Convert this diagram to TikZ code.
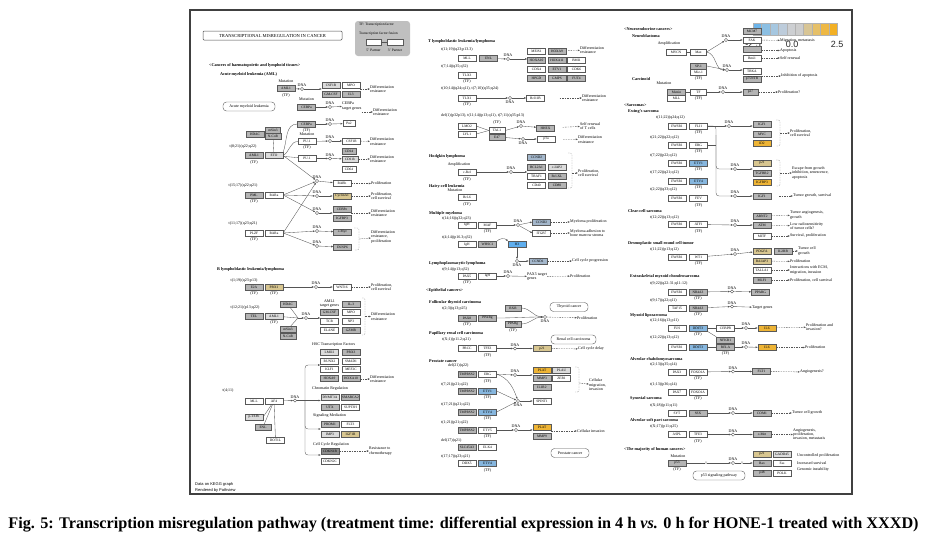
\documentclass[tikz,border=0pt]{standalone}
\usepackage{fontspec}
\setmainfont{Liberation Serif}
\setsansfont{Liberation Sans}
\usetikzlibrary{arrows.meta}
\definecolor{kgray}{HTML}{B4B4B4}
\definecolor{klight}{HTML}{DCDCDC}
\definecolor{kblue}{HTML}{86B6DE}
\definecolor{kbright}{HTML}{5FAEEE}
\definecolor{kccnd}{HTML}{A4B7CB}
\definecolor{ktan}{HTML}{D8C690}
\definecolor{korange}{HTML}{EEB435}
\definecolor{kline}{HTML}{555555}
\definecolor{kc0}{HTML}{6CB4EA}
\definecolor{kc1}{HTML}{8BBFE3}
\definecolor{kc2}{HTML}{A6C7E0}
\definecolor{kc3}{HTML}{BDCCDB}
\definecolor{kc4}{HTML}{CDCFD2}
\definecolor{kc5}{HTML}{CDCDCD}
\definecolor{kc6}{HTML}{D8C595}
\definecolor{kc7}{HTML}{E6C068}
\definecolor{kc8}{HTML}{EEB844}
\definecolor{kc9}{HTML}{F3B024}
\tikzset{
    gene/.style = {rectangle, draw=black!65, line width=0.3pt, fill=white, minimum width=18pt, minimum height=6pt, inner sep=0pt, font=\fontsize{3.5}{3.5}\selectfont},
    geneg/.style = {gene, fill=kgray},
    genel/.style = {gene, fill=klight},
    geneb/.style = {gene, fill=kblue},
    genec/.style = {gene, fill=kccnd},
    genet/.style = {gene, fill=ktan},
    geneo/.style = {gene, fill=korange},
    txt/.style = {inner sep=0pt, font=\fontsize{4}{4.4}\selectfont, align=left},
    txtw/.style = {txt, anchor=west},
    headl/.style = {txtw, font=\fontsize{4.2}{4.6}\selectfont\bfseries},
    pway/.style = {rectangle, rounded corners=3.5pt, draw=black!65, line width=0.4pt, fill=white, inner sep=0pt, minimum height=9pt, font=\fontsize{4}{4}\selectfont},
    dnao/.style = {circle, draw=black!70, fill=white, line width=0.3pt, inner sep=0pt, minimum size=3.4pt},
    dnac/.style = {dnao, label={[txt,label distance=0.4pt]above:DNA}},
    dnab/.style = {dnao, label={[txt,label distance=0.4pt]below:DNA}},
    edgen/.style = {-{Latex[length=2.2pt,width=1.8pt]}, draw=kline, line width=0.35pt},
    edgel/.style = {draw=kline, line width=0.35pt},
    edged/.style = {edgen, dash pattern=on 1.5pt off 1pt},
    brk/.style = {draw=black!45, line width=0.35pt, dash pattern=on 1.5pt off 1pt, rounded corners=1.5pt}
}
\begin{document}
\begin{tikzpicture}[x=1pt,y=-1pt]
\useasboundingbox (0,0) rectangle (927,544);
%
\draw[black!75, line width=2pt] (189.5,9.5) rectangle (852,493.5);
\node[font=\fontsize{16.2}{17}\selectfont\bfseries] (cap) at (463.5,525) {Fig. 5: Transcription misregulation pathway (treatment time: differential expression in 4 h \textit{vs.} 0 h for HONE-1 treated with XXXD)};
\node[draw=black!70, line width=0.5pt, rounded corners=1pt, minimum width=139pt, minimum height=9pt, inner sep=0pt, font=\fontsize{4.6}{4.6}\selectfont] (title) at (272.5,35.5) {TRANSCRIPTIONAL MISREGULATION IN CANCER};
\node[fill=black!25, rounded corners=3pt, minimum width=55pt, minimum height=35pt, inner sep=0pt] (legend) at (382.5,38.5) {};
\node[txtw, font=\fontsize{3.6}{4}\selectfont] (lg1) at (359,25) {TF: Transcription factor};
\node[txtw, font=\fontsize{3.6}{4}\selectfont] (lg2) at (359,34) {Transcription factor fusion};
\node[gene, minimum width=15pt] (lp5) at (373.5,42.5) {};
\node[gene, minimum width=16pt] (lp3) at (395,42.5) {};
\draw[edgel] (lp5) -- (lp3);
\node[txt, font=\fontsize{3.6}{4}\selectfont] (lt5) at (373.5,50) {5' Partner};
\node[txt, font=\fontsize{3.6}{4}\selectfont] (lt3) at (395,50) {3' Partner};
%
% color key
\foreach \c [count=\i from 0] in {kc0,kc1,kc2,kc3,kc4,kc5,kc6,kc7,kc8,kc9}
  \filldraw[fill=\c, draw=black!30, line width=0.2pt] (753+8.4*\i,23) rectangle ++(8.4,12);
\node[font=\sffamily\fontsize{9}{9}\selectfont, text=black!85] (k1) at (753,44.5) {-2.5};
\node[font=\sffamily\fontsize{9}{9}\selectfont, text=black!85] (k2) at (792,44.5) {0.0};
\node[font=\sffamily\fontsize{9}{9}\selectfont, text=black!85] (k3) at (837,44.5) {2.5};
%
% AML
\node[headl] (hemat) at (209,65) {<Cancers of haematopoietic and lymphoid tissues>};
\node[headl] (aml) at (220,74) {Acute myeloid leukemia (AML)};
\node[txt] (mut1) at (286,81.5) {Mutation};
\node[geneg] (aml1a) at (286,88.5) {AML1};
\node[txt] (tf1) at (286,96) {(TF)};
\node[dnac] (c1) at (302,89) {};
\node[genel] (csf1ra) at (331,85) {CSF1R};
\node[gene] (mpoa) at (351,85) {MPO};
\node[geneg] (gmcsfa) at (331,94) {GM-CSF};
\node[geneg] (il3a) at (351,94) {IL3};
\node[txtw] (o1) at (370,89) {Differentiation\\resistance};
\draw[edgen] (aml1a) -- (c1);
\draw[edgen] (c1) -- (c1 -| csf1ra.west);
\draw[edged] (il3a.east |- o1) -- (o1);
\node[pway, minimum width=52pt] (amlp) at (249,106.5) {Acute myeloid leukemia};
\node[txt] (mut2) at (306.5,99) {Mutation};
\node[geneg] (cebpa1) at (306.5,107) {CEBPa};
\node[dnac] (c2) at (330,107) {};
\node[txtw] (cebt) at (342,106) {CEBPa\\target genes};
\node[txtw] (o2) at (373,112) {Differentiation\\resistance};
\draw[edgen] (cebpa1) -- (c2);
\draw[edgen] (c2) -- (cebt);
\draw[edged] (cebt.east |- o2) -- (o2);
\node[geneg] (cebpa2) at (306.5,124) {CEBPa};
\node[txt] (tf2) at (306.5,131) {(TF)};
\node[dnac] (c3) at (330,124) {};
\node[gene, minimum width=12pt] (pu2) at (349,123.5) {Pu2};
\draw[edgen] (cebpa2) -- (c3);
\draw[edgen] (c3) -- (pu2);
\node[geneg] (hdac1) at (255,134.5) {HDAC};
\node[geneg, minimum width=15pt] (msin1) at (273,130) {mSin3};
\node[geneg, minimum width=16pt] (ncor1) at (273,136) {N-CoR};
\node[txt] (mut3) at (307,134) {Mutation};
\node[gene] (pu1a) at (307,141.5) {PU.1};
\node[txt] (tf3) at (307,148) {(TF)};
\node[dnac] (c4) at (330,141) {};
\node[gene] (csf1rb) at (351.5,141) {CSF1R};
\node[txtw] (o3) at (370,141.5) {Differentiation\\resistance};
\draw[edgen] (pu1a) -- (c4);
\draw[edgen] (c4) -- (csf1rb);
\draw[edged] (csf1rb) -- (o3);
\node[txt] (tr1) at (243,147) {t(8;21)(q22;q22)};
\node[geneg] (aml1b) at (254,155.5) {AML1};
\node[genel] (eto) at (274,155.5) {ETO};
\node[txt] (tf4) at (254,163) {(TF)};
\node[gene] (pu1b) at (307,158.5) {PU.1};
\node[dnac] (c5) at (330,158.5) {};
\node[geneg, minimum width=14pt] (cd14) at (349,151) {CD14};
\node[genel, minimum width=16pt] (cd11b) at (350,159) {CD11b};
\node[gene, minimum width=14pt] (cd64) at (349,169) {CD64};
\node[txtw] (o4) at (370,159) {Differentiation\\resistance};
\draw[edgen] (pu1b) -- (c5);
\draw[edgen] (c5) -- (cd11b);
\draw[edged] (cd11b) -- (o4);
\draw[edgel] (ncor1) -- (eto);
\draw[edgel] (eto.east) to[out=30,in=180] (pu1a.west);
\draw[edgel] (eto) -- (pu1b);
\draw[edgel] (eto.north east) to[out=70,in=180] (cebpa2.west);
\node[txt] (tr2) at (243,186) {t(15;17)(q22;q21)};
\node[geneg] (pml) at (254,195) {PML};
\node[gene] (rara1) at (274,195) {RARa};
\node[txt] (tf5) at (254,202) {(TF)};
\node[txt] (tr3) at (243,224) {t(11;17)(q23;q21)};
\node[gene] (plzf) at (254,233) {PLZF};
\node[gene] (rara2) at (274,233) {RARa};
\node[txt] (tf6) at (254,240) {(TF)};
\node[dnac] (d1) at (317,181) {};
\node[dnac] (d2) at (317,196) {};
\node[dnac] (d3) at (317,213) {};
\node[dnac] (d4) at (317,231) {};
\node[dnac] (d5) at (317,246) {};
\node[gene] (rarb) at (342,183.5) {RARb};
\node[genet] (cyca1) at (342,196) {CyclinA1};
\node[geneg] (cebpe) at (342,209) {CEBPe};
\node[geneg] (igfbp3a) at (342,218) {IGFBP3};
\node[geneg] (cmyca) at (342.5,232) {c-Myc};
\node[geneg] (dusp6) at (342.5,247) {DUSP6};
\node[txtw] (o5) at (371,183.5) {Proliferation};
\node[txtw] (o6) at (371,196) {Proliferation,\\cell survival};
\node[txtw] (o7) at (371,213) {Differentiation\\resistance};
\node[txtw] (o8) at (371,237) {Differentiation\\resistance,\\proliferation};
\draw[brk] (354,228) -- (359,228) -- (359,250) -- (354,250);
\coordinate (b1) at (359,239);
\draw[edged] (b1) -- (o8);
\draw[edgen] (d1) -- (rarb);
\draw[edgen] (d2) -- (cyca1);
\draw[edgen] (d3) -- (d3 -| cebpe.west);
\draw[edgen] (d4) -- (cmyca);
\draw[edgen] (d5) -- (dusp6);
\draw[edged] (rarb) -- (o5);
\draw[edged] (cyca1) -- (o6);
\draw[edged] (d3 -| cebpe.east) -- (o7);
\draw[edgen] (eto.east) -- (d1);
\draw[edgen] (rara1.east) -- (d1);
\draw[edgen] (rara1.east) -- (d2);
\draw[edgen] (rara1.east) -- (d3);
\draw[edgen] (rara2.east) -- (d1);
\draw[edgen] (rara2.east) -- (d4);
\draw[edgen] (rara2.east) -- (d5);
%
% B lymphoblastic
\node[headl] (blym) at (217,269) {B lymphoblastic leukemia/lymphoma};
\node[txt] (tr4) at (244,281) {t(1;19)(q23;p13)};
\node[geneg] (e2a) at (254,287) {E2A};
\node[genet] (pbx1) at (274,287) {PBX1};
\node[txt] (tf7) at (254,294) {(TF)};
\node[txt] (tf8) at (274,294) {(TF)};
\node[dnac] (d6) at (316,287) {};
\node[gene] (wnt16) at (342,287) {WNT16};
\node[txtw] (o9) at (371,287) {Proliferation,\\cell survival};
\draw[edgen] (pbx1) -- (d6);
\draw[edgen] (d6) -- (wnt16);
\draw[edged] (wnt16) -- (o9);
\node[txt] (tr5) at (245,308) {t(12;21)(p13;q22)};
\node[geneg] (tel) at (254,316) {TEL};
\node[genel] (aml1c) at (274,316) {AML1};
\node[txt] (tf9) at (274,323) {(TF)};
\node[geneg, minimum width=16pt] (hdac2) at (288,304.5) {HDAC};
\node[geneg, minimum width=16pt] (msin2) at (288,329) {mSin3};
\node[geneg, minimum width=16pt] (ncor2) at (288,336) {N-CoR};
\coordinate (j1) at (298,318);
\node[dnac] (d7) at (306,318) {};
\draw[edgel] (aml1c) -- (j1);
\draw[edgel] (hdac2) -- (j1);
\draw[edgel] (msin2) -- (j1);
\draw[edgen] (j1) -- (d7);
\node[txt, align=center] (amlt) at (329.5,303.5) {AML1\\target genes};
\node[geneg] (il3b) at (351,304) {IL-3};
\node[geneg] (gmcsfb) at (329.5,312.5) {GM-CSF};
\node[gene] (mpob) at (351,312.5) {MPO};
\node[gene] (tcr) at (329.5,321) {TCR};
\node[gene] (np3) at (351,321) {NP3};
\node[gene] (elane) at (329.5,330) {ELANE};
\node[geneg] (gzmb) at (351,330) {GZMB};
\draw[edgen] (d7) -- (d7 -| gmcsfb.west);
\draw[brk] (362,298) -- (365,298) -- (365,335) -- (362,335);
\coordinate (b2) at (365,316.5);
\node[txtw] (o10) at (371,316.5) {Differentiation\\resistance};
\draw[edged] (b2) -- (o10);
%
% MLL-AF4
\node[txtw] (hsct) at (312,345) {HSC Transcription Factors};
\node[genel] (lmo2a) at (329.5,352.5) {LMO2};
\node[geneg] (pbx3) at (351,352.5) {PBX3};
\node[gene] (runx2) at (329.5,361) {RUNX2};
\node[gene] (smad1) at (351,361) {SMAD1};
\node[gene] (klf1) at (329.5,369) {KLF1};
\node[gene] (mef2c) at (351,369) {MEF2C};
\node[geneg] (hoxa9a) at (329.5,378) {HOXA9};
\node[geneg] (hoxa10a) at (351,378) {HOXA10};
\node[txtw] (o11) at (370,379) {Differentiation\\resistance};
\draw[edged] (hoxa10a.east |- o11) -- (o11);
\node[txt] (tr6) at (228,391) {t(4;11)};
\node[gene] (mll1) at (254,401) {MLL};
\node[gene] (af4) at (274,401) {AF4};
\node[genel] (ptefb) at (254,417) {p-TEFb};
\node[geneg, minimum width=16pt] (enl1) at (263,427) {ENL};
\node[gene] (dot1l) at (275.5,440) {DOT1L};
\draw[edgel] (af4) -- (ptefb.east);
\draw[edgel] (af4) -- (enl1);
\draw[edgel] (af4) -- (dot1l);
\node[dnac] (d8) at (295,400.5) {};
\draw[edgen] (af4) -- (d8);
\coordinate (br1) at (305,400.5);
\coordinate (brt) at (305,365);
\coordinate (brs) at (305,429);
\coordinate (brb) at (305,455);
\draw[edgel] (d8) -- (br1);
\draw[edgen, rounded corners=3pt] (br1) |- (lmo2a.west |- brt);
\node[txtw] (chrt) at (312,389) {Chromatin Regulation};
\node[genel] (dnmt) at (330,397) {DNMT3A};
\node[geneg] (smarca) at (350.5,397) {SMARCA2};
\node[geneg] (utx) at (330,407) {UTX};
\node[gene] (supt3h) at (350.5,407) {SUPT3H};
\draw[edgen] (br1) -- (br1 -| dnmt.west);
\node[txtw] (sigt) at (313,416) {Signaling Mediation};
\node[geneg] (prom1) at (330,424) {PROM1};
\node[gene] (flt3) at (350.5,424) {FLT3};
\node[genel] (imp3) at (330,434) {IMP3};
\node[genet] (igf1r) at (350.5,434) {IGF1R};
\draw[edgen, rounded corners=3pt] (br1) |- (prom1.west |- brs);
\node[txtw] (cct) at (313,445) {Cell Cycle Regulation};
\node[gene, fill=black!45] (cdkn1b) at (330,451) {CDKN1B};
\node[gene] (cdkn2c) at (330,461) {CDKN2C};
\draw[edgen, rounded corners=3pt] (br1) |- (cdkn1b.west |- brb);
\node[txtw] (o12) at (369,451) {Resistance to\\chemotherapy};
\draw[edged] (cdkn1b) -- (o12);
\node[txtw, font=\sffamily\fontsize{4}{4}\selectfont] (src1) at (195,484) {Data on KEGG graph};
\node[txtw, font=\sffamily\fontsize{4}{4}\selectfont] (src2) at (195,490) {Rendered by Pathview};
%
% T lymphoblastic
\node[headl] (tlym) at (428,41) {T lymphoblastic leukemia/lymphoma};
\node[txtw] (tr7) at (441,50) {t(11;19)(q23;p13.3)};
\node[gene] (mll2) at (467,58.5) {MLL};
\node[geneg] (enl2) at (488.5,58.5) {ENL};
\node[dnac] (d9) at (508,59) {};
\draw[edgen] (enl2) -- (d9);
\node[gene] (meis1a) at (536.5,51) {MEIS1};
\node[geneg] (hoxa9b) at (557,51) {HOXA9};
\node[geneg] (hoxa10b) at (536.5,60) {HOXA10};
\node[geneg] (hoxa11) at (557,60) {HOXA11};
\node[gene] (bmi1a) at (576.5,60) {BMI1};
\node[gene] (cdx4) at (536.5,69) {CDX4};
\node[geneg] (etv1c) at (557,69) {ETV1};
\node[gene, line width=0.6pt] (cdk6) at (576.5,69) {CDK6};
\node[geneg] (hpgd) at (536.5,78) {HPGD};
\node[geneg] (gmps) at (557,78) {GMPS};
\node[geneg] (fut4) at (576.5,78) {FUT4};
\draw[edgen] (d9) -- (d9 -| hoxa10b.west);
\node[txtw] (o13) at (580,50) {Differentiation\\resistance};
\draw[edged, shorten <=2pt] (hoxa9b) -- (o13);
\node[txtw] (tr8) at (441,67) {t(7;14)(q35;q32)};
\node[gene] (tlx3) at (467,75) {TLX3};
\node[txt] (tf10) at (467,82) {(TF)};
\node[txtw] (tr9) at (441,89) {t(10;14)(q24;q11), t(7;10)(q35;q24)};
\node[gene] (tlx1) at (467,98) {TLX1};
\node[txt] (tf11) at (467,105) {(TF)};
\node[dnab] (d10) at (510,98) {};
\node[gene] (bcl11b) at (535.5,98) {Bcl11B};
\node[txtw] (o14) at (582,98) {Differentiation\\resistance};
\draw[edgen] (tlx1) -- (d10);
\draw[edgen] (d10) -- (bcl11b);
\draw[edged, shorten <=15pt] (bcl11b) -- (o14);
\node[txtw] (tr10) at (441,116) {del(1)(p32p13), t(11;14)(p13;q11), t(7;11)(q35;p13)};
\node[gene] (lmo2b) at (467,126) {LMO2};
\node[gene] (lyl1) at (467,134) {LYL1};
\node[txt] (tf12) at (497,123) {(TF)};
\node[gene, minimum width=16pt] (tal1) at (497,130.5) {TAL1};
\node[geneg, minimum width=16pt] (e47) at (497,137.5) {E47};
\draw[edgel] (lmo2b.east) -- (tal1.west);
\draw[edgel] (lyl1.east) -- (tal1.west);
\node[dnac] (d11) at (521,126) {};
\node[dnab] (d12) at (523,139) {};
\node[geneg] (hhex) at (545.5,128) {HHEX};
\node[gene] (pta) at (546,139) {pTa};
\node[txtw] (o15) at (580,126) {Self renewal\\of T cells};
\node[txtw] (o16) at (578,139.5) {Differentiation\\resistance};
\draw[edgen] (tal1.east) -- (d11);
\draw[edgen] (e47.east) -- (d12);
\draw[edgen] (d11) -- (hhex);
\draw[edgen] (d12) -- (pta);
\draw[edged, shorten <=8pt] (hhex) -- (o15);
\draw[edged, shorten <=8pt] (pta) -- (o16);
%
% Hodgkin, hairy-cell, myeloma
\node[headl] (hodg) at (429,157) {Hodgkin lymphoma};
\node[txt] (amp1) at (459,165) {Amplification};
\node[gene] (crel) at (467,172) {c-Rel};
\node[txt] (tf13) at (467,179.5) {(TF)};
\node[dnac] (d13) at (511,172) {};
\node[genec] (ccnd2a) at (536.5,157) {CCND2};
\node[geneg] (bcl2a1) at (536.5,167) {BCL2A1};
\node[genel] (ciap2) at (557,167) {c-IAP2};
\node[gene] (traf1) at (536.5,176) {TRAF1};
\node[geneg] (bclxl) at (557,176) {Bcl-XL};
\node[gene] (cd40) at (536.5,185) {CD40};
\node[geneg] (cd80) at (557,185) {CD80};
\draw[edgen] (crel) -- (d13);
\draw[edgen] (d13) -- (d13 -| bcl2a1.west);
\draw[brk] (568,153) -- (572,153) -- (572,188) -- (568,188);
\coordinate (b3) at (572,173);
\node[txtw] (o17) at (578,173) {Proliferation,\\cell survival};
\draw[edged] (b3) -- (o17);
\node[headl] (hairy) at (429,186) {Hairy-cell leukemia};
\node[txt] (mut4) at (455,190.5) {Mutation};
\node[gene] (bcl6) at (467,197.5) {Bcl-6};
\node[txt] (tf14) at (467,205) {(TF)};
\node[headl] (mm) at (429,213) {Multiple myeloma};
\node[txtw] (tr11) at (442,219) {t(14;16)(q32;q23)};
\node[gene] (igh1) at (467,225) {IgH};
\node[gene] (maf) at (487.5,225) {MAF};
\node[txt] (tf15) at (487.5,232) {(TF)};
\node[dnac] (d14) at (518,225) {};
\node[genec] (ccnd2b) at (541.5,222) {CCND2};
\node[gene] (itgb7) at (541.5,233) {ITGB7};
\node[txtw] (o18) at (570,222) {Myeloma proliferation};
\node[txtw] (o19) at (570,233) {Myeloma adhesion to\\bone marrow stroma};
\draw[edgen] (maf) -- (d14);
\draw[edgen] (d14) -- (ccnd2b.west);
\draw[edgen] (d14) -- (itgb7.west);
\draw[edged] (ccnd2b) -- (o18);
\draw[edged] (itgb7) -- (o19);
\node[txtw] (tr12) at (442,237.5) {t(4;14)(p16.3;q32)};
\node[gene] (igh2) at (467,244.5) {IgH};
\node[geneg] (whsc1) at (487.5,244.5) {WHSC1};
\node[gene, fill=kbright] (h3) at (517,244.5) {H3};
\draw[edgen] (whsc1.north east) to[out=50,in=130] (h3.north west);
\node[dnab] (d15) at (517,261) {};
\node[genec] (ccnd1) at (538,261) {CCND1};
\draw[edgen] (h3) -- (d15);
\draw[edgen] (d15) -- (ccnd1);
\node[txtw] (o20) at (572,261) {Cell cycle progression};
\draw[edged] (ccnd1) -- (o20);
\node[headl] (lpl) at (429,263) {Lymphoplasmacytic lymphoma};
\node[txtw] (tr13) at (442,269.5) {t(9;14)(p13;q32)};
\node[gene] (pax5) at (467,276) {PAX5};
\node[gene] (igh3) at (487.5,276) {IgH};
\node[txt] (tf16) at (467,283) {(TF)};
\node[dnac] (d16) at (508,276) {};
\node[txtw] (pax5t) at (527,276.5) {PAX5 target\\genes};
\node[txtw] (o21) at (570,276) {Proliferation};
\draw[edgen] (igh3) -- (d16);
\draw[edgen] (d16) -- (pax5t);
\draw[edged] (pax5t) -- (o21);
%
% epithelial
\node[headl] (epi) at (426,290) {<Epithelial cancers>};
\node[headl] (ftc) at (429,302) {Follicular thyroid carcinoma};
\node[txtw] (tr14) at (442,309) {t(2;3)(q13;p25)};
\node[geneg] (pax8) at (467,318) {PAX8};
\node[geneg] (pparg1) at (487.5,318) {PPARg};
\node[txt] (tf17) at (467,325) {(TF)};
\node[geneg, minimum width=16pt] (rxr) at (513,308) {RXR};
\node[geneg, minimum width=16pt] (pparg2) at (513,324) {PPARg};
\node[txt] (tf18) at (513,331) {(TF)};
\node[dnab] (d17) at (545,317) {};
\draw[edgen] (pparg1.east) to[out=0,in=180] (d17);
\draw[edgen] (rxr.east) to[out=0,in=180] (d17);
\draw[edgen] (pparg2.east) to[out=0,in=180] (d17);
\node[txtw] (o22) at (577,318) {Proliferation};
\draw[edged] (d17) -- (o22);
\node[pway, minimum width=38pt] (thyr) at (569,307) {Thyroid cancer};
\node[headl] (prcc) at (429,333) {Papillary renal cell carcinoma};
\node[txtw] (tr15) at (442,339.5) {t(X;1)(p11.2;q21)};
\node[gene] (prccg) at (467,348.5) {PRCC};
\node[gene] (tfe3a) at (487.5,348.5) {TFE3};
\node[txt] (tf19) at (487.5,356) {(TF)};
\node[dnac] (d18) at (515,348.5) {};
\node[genet] (p21a) at (542,348.5) {p21};
\node[txtw] (o23) at (578,349) {Cell cycle delay};
\draw[edgen] (tfe3a) -- (d18);
\draw[edgen] (d18) -- (p21a);
\draw[edged] (p21a) -- (o23);
\node[pway, minimum width=45pt] (renal) at (573.5,339.5) {Renal cell carcinoma};
\node[headl] (prost) at (429,361) {Prostate cancer};
\node[txtw] (tr16) at (448,366) {del(21)(q22)};
\node[geneg] (tmp1) at (467,374) {TMPRSS2};
\node[gene] (erg2) at (487.5,374) {ERG};
\node[txt] (tf20) at (487.5,381.5) {(TF)};
\node[dnac] (d19) at (515,375) {};
\node[geneo] (plat1) at (542,370) {PLAT};
\node[genel] (plau) at (561.5,370) {PLAU};
\node[geneg] (mmp3) at (542,378.5) {MMP3};
\node[gene] (zeb1) at (561.5,378.5) {ZEB1};
\node[geneg] (il1r2) at (542,387) {IL1R2};
\draw[brk] (575,367) -- (579,367) -- (579,392) -- (575,392);
\coordinate (b4) at (579,383);
\node[txtw] (o24) at (589,385) {Cellular\\migration,\\invasion};
\draw[edged] (b4) -- (o24);
\draw[edgen] (erg2) -- (d19);
\draw[edgen] (d19) -- (d19 -| plat1.west);
\node[txtw] (tr17) at (441,385) {t(7;21)(p21;q22)};
\node[geneg] (tmp2) at (467,391) {TMPRSS2};
\node[geneb] (etv1a) at (487.5,391) {ETV1};
\node[txt] (tf21) at (487.5,398) {(TF)};
\node[dnab] (d20) at (518,401) {};
\node[gene] (spint1) at (542,401) {SPINT1};
\draw[edgen] (erg2.east) to[out=-20,in=110] (d20);
\draw[edgen] (etv1a.east) -- (d20);
\draw[edgen] (d20) -- (spint1);
\node[txtw] (tr18) at (441,405) {t(17;21)(q21;q22)};
\node[geneg] (tmp3) at (467,412) {TMPRSS2};
\node[geneb] (etv4a) at (487.5,412) {ETV4};
\node[txt] (tf41) at (487.5,419) {(TF)};
\draw[edgen] (etv4a.east) -- (d20);
\node[txtw] (tr19) at (441,423) {t(1;21)(p21;q22)};
\node[geneg] (tmp4) at (467,430) {TMPRSS2};
\node[gene] (etv5) at (487.5,430) {ETV5};
\node[txt] (tf22) at (487.5,437) {(TF)};
\node[dnac] (d21) at (516,430) {};
\node[geneo] (plat2) at (542,427) {PLAT};
\node[geneg] (mmp9) at (542,436) {MMP9};
\node[txtw] (o25) at (577,431) {Cellular invasion};
\draw[edgen] (etv5) -- (d21);
\draw[edgen] (d21) -- (d21 -| plat2.west);
\draw[edged] (mmp9.east |- o25) -- (o25);
\node[txtw] (tr20) at (441,440.5) {del(17)(q21)};
\node[geneg] (slc) at (467,447) {SLC45A3};
\node[gene] (elk4) at (487.5,447) {ELK4};
\node[txtw] (tr21) at (441,456.5) {t(17;17)(q23;q21)};
\node[gene] (ddx5) at (467,463) {DDX5};
\node[geneb] (etv4b) at (487.5,463) {ETV4};
\node[txt] (tf23) at (487.5,470.5) {(TF)};
\node[pway, minimum width=38pt] (prostp) at (570,453) {Prostate cancer};
%
% neuroendocrine
\node[headl] (neuro) at (624,29) {<Neuroendocrine cancers>};
\node[headl] (nbl) at (632,36) {Neuroblastoma};
\node[txt] (amp2) at (669,44) {Amplification};
\node[gene, minimum width=20pt] (mycn) at (676,52) {MYCN};
\node[gene, minimum width=16pt] (max) at (698.5,52) {Max};
\draw[edgel] (mycn) -- (max);
\node[dnac] (d22) at (726,40) {};
\node[geneg] (mcm7) at (752,31.5) {MCM7};
\node[gene] (fak) at (752,40) {FAK};
\node[geneg] (mdm2) at (752,49) {};
\node[gene] (bmi1b) at (752,58) {Bmi1};
\node[txtw] (o26) at (780,40.5) {Migration, metastasis};
\node[txtw] (o27) at (780,50.5) {Apoptosis};
\node[txtw] (o28) at (780,58) {Self renewal};
\draw[edgen] (max.east) -- (d22);
\draw[edgen] (d22) -- (fak);
\draw[edged] (fak) -- (o26);
\draw[edged] (mdm2.east |- o27) -- (o27);
\draw[edged] (bmi1b) -- (o28);
\node[geneg, minimum width=16pt] (sp1) at (698.5,66) {SP-1};
\node[gene, minimum width=16pt] (miz1) at (698.5,72.5) {Miz-1};
\node[txt] (tf24) at (698.5,79) {(TF)};
\node[dnac] (d23) at (727,70) {};
\node[gene] (trka) at (752,71.5) {TRKA};
\node[geneg] (p75) at (752,79) {p75NTR};
\node[txtw] (o29) at (781,76) {Inhibition of apoptosis};
\draw[edgen] (max.east) to[out=-10,in=180] (d23);
\draw[edgen] (sp1.east) -- (d23);
\draw[edgen] (d23) -- (d23 -| trka.west);
\draw[edged] (p75.east |- o29) -- (o29);
\node[headl] (carc) at (632,79) {Carcinoid};
\node[txt] (mut5) at (664,83.5) {Mutation};
\node[geneg] (menin) at (676.5,92) {Menin};
\node[gene] (mll4) at (676.5,98) {MLL};
\node[gene, minimum width=16pt] (tfx) at (698.5,92) {TF};
\node[txt] (tf25) at (698.5,99) {(TF)};
\draw[edgel] (menin) -- (tfx);
\node[dnac] (d24) at (723,92) {};
\node[geneg, minimum width=15pt] (p27) at (750.5,92) {p27};
\node[txtw] (o30) at (778,92) {Proliferation?};
\draw[edgen] (tfx) -- (d24);
\draw[edgen] (d24) -- (p27);
\draw[edged] (p27) -- (o30);
%
% sarcomas
\node[headl] (sarc) at (624,105) {<Sarcomas>};
\node[headl] (ewing) at (628,112) {Ewing's sarcoma};
\node[txtw] (tr22) at (656,118) {t(11;22)(q24;q12)};
\node[gene] (ews1) at (677,126) {EWSR1};
\node[gene] (fli1) at (698.5,126) {FLI1};
\node[txt] (tf26) at (698.5,133) {(TF)};
\node[dnac] (d25) at (729,126) {};
\node[geneg] (igf1a) at (762,124) {IGF1};
\node[geneg] (myc) at (762,134) {MYC};
\node[geneo] (id2) at (762,143) {ID2};
\draw[brk] (776,120) -- (780,120) -- (780,146) -- (776,146);
\coordinate (b5) at (780,133);
\node[txtw] (o31) at (790,133) {Proliferation,\\cell survival};
\draw[edged] (b5) -- (o31);
\draw[edgen] (fli1) -- (d25);
\draw[edgen] (d25) -- (d25 -| igf1a.west);
\node[txtw] (tr23) at (650,138) {t(21;22)(q22;q12)};
\node[gene] (ews2) at (677,145) {EWSR1};
\node[gene] (erg3) at (698.5,145) {ERG};
\node[txt] (tf27) at (698.5,152) {(TF)};
\node[txtw] (tr24) at (650,156) {t(7;22)(p22;q12)};
\node[gene] (ews3) at (677,163) {EWSR1};
\node[geneb] (etv1b) at (698.5,163) {ETV1};
\node[txt] (tf28) at (698.5,170) {(TF)};
\node[txtw] (tr25) at (650,173) {t(17;22)(q21;q12)};
\node[gene] (ews4) at (677,181) {EWSR1};
\node[geneb] (etv4c) at (698.5,181) {ETV4};
\node[txt] (tf29) at (698.5,188) {(TF)};
\node[txtw] (tr26) at (650,190) {t(2;22)(q33;q12)};
\node[gene] (ews5) at (677,198.5) {EWSR1};
\node[gene] (fev) at (698.5,198.5) {FEV};
\node[txt] (tf30) at (698.5,206) {(TF)};
\node[dnac] (d26) at (735,169) {};
\node[genet] (p21b) at (762,163) {p21};
\node[geneg] (tgfbr2) at (762,173) {TGFBR2};
\node[geneo] (igfbp3b) at (762,182.5) {IGFBP3};
\draw[brk] (776,160) -- (780,160) -- (780,186) -- (776,186);
\coordinate (b6) at (780,173);
\node[txtw] (o32) at (792,173) {Escape from growth\\inhibition, senescence,\\apoptosis};
\draw[edged] (b6) -- (o32);
\node[dnac] (d27) at (735,196) {};
\node[geneg] (igf1b) at (762,196) {IGF1};
\node[txtw] (o33) at (793,196) {Tumor growth, survival};
\draw[edged, shorten <=8pt] (igf1b) -- (o33);
\draw[edgen] (d26) -- (d26 -| tgfbr2.west);
\draw[edgen] (d27) -- (igf1b);
\coordinate (ewj) at (716,135);
\draw[edgel, rounded corners=3pt] (fli1.east) -| (ewj);
\draw[edgen, rounded corners=3pt] (ewj) |- (d26);
\draw[edgen, rounded corners=3pt] (ewj) |- (d27);
\draw[edgel] (erg3.east) -- (erg3.east -| ewj);
\node[headl] (ccs) at (628,211) {Clear-cell sarcoma};
\node[txtw] (tr27) at (650,218) {t(12;22)(q13;q12)};
\node[gene] (ews6) at (677,224.5) {EWSR1};
\node[gene] (atf1) at (698.5,224.5) {ATF1};
\node[txt] (tf31) at (698.5,231.5) {(TF)};
\node[dnac] (d28) at (735,225) {};
\node[geneg] (arnt2) at (762,216) {ARNT2};
\node[geneg] (atm) at (762,225) {ATM};
\node[gene] (mitf) at (762,236) {MITF};
\node[txtw] (o34) at (790,215) {Tumor angiogenesis,\\growth};
\node[txtw] (o35) at (790,226) {Low radiosensitivity\\of tumor cells?};
\node[txtw] (o36) at (790,236) {Survival, proliferation};
\draw[edgen] (atf1) -- (d28);
\draw[edgen] (d28) -- (atm);
\draw[edged] (arnt2) -- (o34);
\draw[edged] (atm) -- (o35);
\draw[edged] (mitf) -- (o36);
\node[headl] (dsrct) at (628,243) {Desmoplastic small round cell tumor};
\node[txtw] (tr28) at (650,250) {t(11;22)(p13;q12)};
\node[gene] (ews7) at (677,257) {EWSR1};
\node[gene] (wt1) at (698.5,257) {WT1};
\node[txt] (tf32) at (698.5,264) {(TF)};
\node[dnac] (d29) at (735,254) {};
\node[genet] (pdgfa) at (762,251) {PDGFA};
\node[geneg] (il2rb) at (783,251) {IL2RB};
\node[txtw] (o37) at (798,251) {Tumor cell\\growth};
\node[genet] (baiap3) at (762,261) {BAIAP3};
\node[gene] (talla1) at (762,270) {TALLA1};
\node[geneg] (mlf1) at (762,280) {MLF1};
\node[txtw] (o38) at (790,261.5) {Proliferation};
\node[txtw] (o39) at (790,270) {Interactions with ECM,\\migration, invasion};
\node[txtw] (o40) at (790,280) {Proliferation, cell survival};
\draw[edgen] (wt1) -- (d29);
\draw[edgen] (d29) -- (pdgfa);
\draw[edged] (il2rb) -- (o37);
\draw[edged] (baiap3) -- (o38);
\draw[edged] (talla1) -- (o39);
\draw[edged] (mlf1) -- (o40);
\node[headl] (emc) at (630,276) {Extraskeletal myxoid chondrosarcoma};
\node[txtw] (tr29) at (650,284) {t(9;22)(q22-31;q11-12)};
\node[gene] (ews8) at (677,292) {EWSR1};
\node[geneg] (nr4a3a) at (698,292) {NR4A3};
\node[txt] (tf33) at (698,299) {(TF)};
\node[dnac] (d30) at (732,291.5) {};
\node[geneg] (pparg3) at (760.5,292) {PPARG};
\draw[edgen] (nr4a3a) -- (d30);
\draw[edgen] (d30) -- (pparg3);
\node[txtw] (tr30) at (650,301) {t(9;17)(q22;q11)};
\node[gene] (taf15) at (677,308) {TAF15};
\node[geneg] (nr4a3b) at (698,308) {NR4A3};
\node[txt] (tf34) at (698,315) {(TF)};
\node[dnac] (d31) at (732,306.5) {};
\node[txtw] (tgt) at (752,307.5) {Target genes};
\draw[edgen] (nr4a3b) -- (d31);
\draw[edgen] (d31) -- (tgt);
\node[headl] (mlps) at (630,315) {Myxoid liposarcoma};
\node[txtw] (tr31) at (650,321) {t(12;16)(q13;p11)};
\node[gene] (fus) at (677,328) {FUS};
\node[geneb] (ddit3a) at (698,328) {DDIT3};
\node[txt] (tf35) at (698,335) {(TF)};
\node[gene] (cebpb) at (725.5,328) {CEBPB};
\node[dnac] (d32) at (746,328) {};
\node[geneo] (il6a) at (767,328) {IL6};
\node[txtw] (o41) at (806,327) {Proliferation and\\invasion?};
\draw[edgel] (ddit3a) -- (cebpb);
\draw[edgen] (cebpb) -- (d32);
\draw[edgen] (d32) -- (il6a);
\draw[edged] (il6a) -- (o41);
\node[txtw] (tr32) at (650,338) {t(12;22)(q13;q12)};
\node[gene] (ews9) at (677,347) {EWSR1};
\node[geneb] (ddit3b) at (698,347) {DDIT3};
\node[geneg] (nfkb1) at (725.5,340) {NFKB1};
\node[geneg] (rela) at (725.5,347) {RELA};
\node[txt] (tf36) at (725.5,354) {(TF)};
\node[dnac] (d33) at (746,347) {};
\node[geneo] (il6b) at (767,347.5) {IL6};
\node[txtw] (o42) at (805,347.5) {Proliferation};
\draw[edgel] (ddit3a.south east) -- (nfkb1.north west);
\draw[edgel] (ddit3b) -- (rela);
\draw[edgen] (rela) -- (d33);
\draw[edgen] (d33) -- (il6b);
\draw[edged] (il6b) -- (o42);
\node[headl] (arms) at (630,359) {Alveolar rhabdomyosarcoma};
\node[txtw] (tr33) at (650,365) {t(2;13)(q35;q14)};
\node[gene] (pax3) at (677,372) {PAX3};
\node[gene] (foxo1a) at (698,372) {FOXO1A};
\node[txt] (tf37) at (698,379) {(TF)};
\node[dnac] (d34) at (733,371.5) {};
\node[geneg] (flt1) at (761.5,371.5) {FLT1};
\node[txtw] (o43) at (800,372) {Angiogenesis?};
\draw[edgen] (foxo1a) -- (d34);
\draw[edgen] (d34) -- (flt1);
\draw[edged] (flt1) -- (o43);
\node[txtw] (tr34) at (650,385) {t(1;13)(p36;q14)};
\node[gene] (pax7) at (677,392) {PAX7};
\node[gene] (foxo1b) at (698,392) {FOXO1A};
\node[txt] (tf38) at (698,399) {(TF)};
\node[headl] (syn) at (630,398) {Synovial sarcoma};
\node[txtw] (tr35) at (650,406) {t(X;18)(p11;q11)};
\node[gene] (syt) at (677,413) {SYT};
\node[geneg] (ssx) at (698,413) {SSX};
\node[dnac] (d35) at (733,413) {};
\node[geneg] (com1) at (762,413) {COM1};
\node[txtw] (o44) at (792,413) {Tumor cell growth};
\draw[edgen] (ssx) -- (d35);
\draw[edgen] (d35) -- (com1);
\draw[edged] (com1) -- (o44);
\node[headl] (asps) at (630,420) {Alveolar soft part sarcoma};
\node[txtw] (tr36) at (650,427) {t(X;17)(p11;q25)};
\node[gene] (aspl) at (677,434.5) {ASPL};
\node[gene] (tfe3b) at (698,434.5) {TFE3};
\node[txt] (tf39) at (698,442) {(TF)};
\node[dnac] (d36) at (733,434.5) {};
\node[geneg] (cmet) at (762,434.5) {c-Met};
\node[txtw] (o45) at (793,434.5) {Angiogenesis,\\proliferation,\\invasion, metastasis};
\draw[edgen] (tfe3b) -- (d36);
\draw[edgen] (d36) -- (cmet);
\draw[edged] (cmet) -- (o45);
%
% p53
\node[headl] (major) at (624,449) {<The majority of human cancers>};
\node[txt] (mut6) at (678,456) {Mutation};
\node[geneg] (p53) at (677,463) {p53};
\node[txt] (tf40) at (677,470) {(TF)};
\node[dnac] (d37) at (733,463) {};
\node[genet] (p21c) at (762,454) {p21};
\node[genel] (gadd45) at (782,454) {GADD45};
\node[geneg] (bax) at (762,463) {Bax};
\node[gene] (fas) at (782,463) {Fas};
\node[geneg] (p48) at (762,473) {p48};
\node[gene] (polk) at (782,473) {POLK};
\node[txtw] (o46) at (797,456) {Uncontrolled proliferation};
\node[txtw] (o47) at (797,463) {Increased survival};
\node[txtw] (o48) at (797,470) {Genomic instability};
\draw[edgen] (p53) -- (d37);
\draw[edgen] (d37) -- (bax);
\node[txt, fill=white] (sl1) at (706,463) {//};
\node[txt, fill=white] (sl2) at (742,463) {//};
\node[pway, minimum width=52pt] (p53p) at (719,475.5) {p53 signaling pathway};
\end{tikzpicture}
\end{document}
